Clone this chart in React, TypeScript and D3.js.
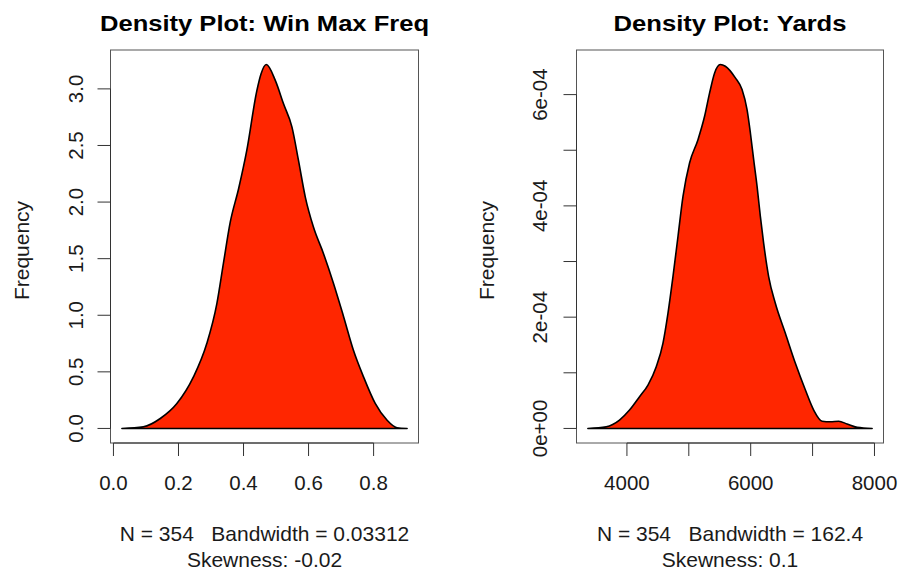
import React from "react";
import * as d3 from "d3";

// Kernel density estimate of win max frequency
const winMaxX = [0.026, 0.092, 0.144, 0.195, 0.246, 0.287, 0.318, 0.338, 0.359, 0.385, 0.41, 0.441, 0.4535, 0.47, 0.498, 0.523, 0.549, 0.569, 0.59, 0.615, 0.646, 0.677, 0.708, 0.738, 0.769, 0.805, 0.841, 0.872, 0.903];
const winMaxDensity = [0, 0.015, 0.088, 0.22, 0.455, 0.75, 1.103, 1.456, 1.82, 2.12, 2.456, 2.985, 3.13, 3.215, 3.073, 2.868, 2.662, 2.368, 2.044, 1.779, 1.544, 1.279, 0.985, 0.691, 0.456, 0.221, 0.074, 0.006, 0];

// Kernel density estimate of yards
const yardsX = [3369, 3665, 3880, 4042, 4204, 4340, 4474, 4582, 4663, 4744, 4825, 4906, 5012, 5148, 5255, 5336, 5417, 5509, 5590, 5752, 5860, 5941, 5995, 6048, 6103, 6156, 6209, 6290, 6398, 6560, 6722, 6884, 7018, 7154, 7288, 7422, 7558, 7720, 7962];
const yardsDensity = [0, 0.000003, 0.000015, 0.000033, 0.000057, 0.000078, 0.000111, 0.000153, 0.000207, 0.000273, 0.000345, 0.000417, 0.000477, 0.000519, 0.000561, 0.000603, 0.000639, 0.000654, 0.000651, 0.00063, 0.000609, 0.000573, 0.000531, 0.000483, 0.000435, 0.000381, 0.000333, 0.000273, 0.000225, 0.000171, 0.000117, 0.000069, 0.000033, 0.000013, 0.000012, 0.000013, 0.000008, 0.000002, 0];

const winMaxXTicks = [0, 0.2, 0.4, 0.6, 0.8];
const winMaxXLabels = ["0.0", "0.2", "0.4", "0.6", "0.8"];
const winMaxYTicks = [0, 0.5, 1, 1.5, 2, 2.5, 3];
const winMaxYLabels = ["0.0", "0.5", "1.0", "1.5", "2.0", "2.5", "3.0"];

const yardsXTicks = [4000, 5000, 6000, 7000, 8000];
const yardsXLabels = ["4000", "", "6000", "", "8000"];
const yardsYTicks = [0, 0.0001, 0.0002, 0.0003, 0.0004, 0.0005, 0.0006];
const yardsYLabels = ["0e+00", "", "2e-04", "", "4e-04", "", "6e-04"];

const titles = ["Density Plot: Win Max Freq", "Density Plot: Yards"];
const subtitles = [
  ["N = 354   Bandwidth = 0.03312", "Skewness: -0.02"],
  ["N = 354   Bandwidth = 162.4", "Skewness: 0.1"],
];

const FONT = "'Liberation Sans', Arial, Helvetica, sans-serif";
const FILL = "#ff2600";
const TEXT = "#1a1a1a";

type PanelProps = {
  xs: number[];
  ys: number[];
  left: number;
  right: number;
  top: number;
  bottom: number;
  xTicks: number[];
  xLabels: string[];
  yTicks: number[];
  yLabels: string[];
  title: string;
  titleLength: number;
  sub: string[];
  yLabelX: number;
  yTickLabelX: number;
};

function Panel(p: PanelProps) {
  const [x0, x1] = d3.extent(p.xs) as [number, number];
  const padX = (x1 - x0) * 0.04;
  const yMax = d3.max(p.ys) as number;
  const padY = yMax * 0.04;
  const x = d3.scaleLinear().domain([x0 - padX, x1 + padX]).range([p.left, p.right]);
  const y = d3.scaleLinear().domain([-padY, yMax + padY]).range([p.bottom, p.top]);

  const pts = p.xs.map((v, i) => [v, p.ys[i]] as [number, number]);
  const line = d3
    .line<[number, number]>()
    .x((d) => x(d[0]))
    .y((d) => y(d[1]))
    .curve(d3.curveMonotoneX);
  const path = (line(pts) || "") + "Z";

  const cx = (p.left + p.right) / 2;
  const cy = (p.top + p.bottom) / 2;
  const tick = 13;
  const xAxisStart = x(p.xTicks[0]);
  const xAxisEnd = x(p.xTicks[p.xTicks.length - 1]);
  const yAxisStart = y(p.yTicks[0]);
  const yAxisEnd = y(p.yTicks[p.yTicks.length - 1]);

  return (
    <g fontFamily={FONT} fill={TEXT}>
      <text
        x={cx}
        y={31}
        fontSize={22}
        fontWeight="bold"
        textAnchor="middle"
        textLength={p.titleLength}
        lengthAdjust="spacingAndGlyphs"
        fill="#000"
      >
        {p.title}
      </text>

      <path d={path} fill={FILL} stroke="#000" strokeWidth={1.6} strokeLinejoin="round" />

      <rect
        x={p.left}
        y={p.top}
        width={p.right - p.left}
        height={p.bottom - p.top}
        fill="none"
        stroke="#555"
        strokeWidth={1}
      />

      {/* x axis */}
      <line x1={xAxisStart} x2={xAxisEnd} y1={p.bottom} y2={p.bottom} stroke="#333" strokeWidth={1} />
      {p.xTicks.map((t, i) => (
        <g key={"xt" + i}>
          <line x1={x(t)} x2={x(t)} y1={p.bottom} y2={p.bottom + tick} stroke="#333" strokeWidth={1} />
          {p.xLabels[i] && (
            <text x={x(t)} y={490} fontSize={20.5} textAnchor="middle">
              {p.xLabels[i]}
            </text>
          )}
        </g>
      ))}

      {/* y axis */}
      <line x1={p.left} x2={p.left} y1={yAxisStart} y2={yAxisEnd} stroke="#333" strokeWidth={1} />
      {p.yTicks.map((t, i) => (
        <g key={"yt" + i}>
          <line x1={p.left - tick} x2={p.left} y1={y(t)} y2={y(t)} stroke="#333" strokeWidth={1} />
          {p.yLabels[i] && (
            <text
              transform={`translate(${p.yTickLabelX},${y(t)}) rotate(-90)`}
              fontSize={20.5}
              textAnchor="middle"
            >
              {p.yLabels[i]}
            </text>
          )}
        </g>
      ))}

      <text
        transform={`translate(${p.yLabelX},${cy + 4}) rotate(-90)`}
        fontSize={21}
        textAnchor="middle"
      >
        Frequency
      </text>

      <text x={cx} y={541} fontSize={21} textAnchor="middle" style={{ whiteSpace: "pre" }}>
        {p.sub[0]}
      </text>
      <text x={cx} y={567} fontSize={21} textAnchor="middle">
        {p.sub[1]}
      </text>
    </g>
  );
}

export default function App() {
  return (
    <svg
      width={901}
      height={571}
      viewBox="0 0 901 571"
      style={{ position: "absolute", left: 0, top: 0, background: "#fff" }}
    >
      <rect width={901} height={571} fill="#fff" />
      <Panel
        xs={winMaxX}
        ys={winMaxDensity}
        left={110.5}
        right={418.5}
        top={50}
        bottom={443}
        xTicks={winMaxXTicks}
        xLabels={winMaxXLabels}
        yTicks={winMaxYTicks}
        yLabels={winMaxYLabels}
        title={titles[0]}
        titleLength={329}
        sub={subtitles[0]}
        yLabelX={29}
        yTickLabelX={83}
      />
      <Panel
        xs={yardsX}
        ys={yardsDensity}
        left={576.5}
        right={883.5}
        top={50}
        bottom={443}
        xTicks={yardsXTicks}
        xLabels={yardsXLabels}
        yTicks={yardsYTicks}
        yLabels={yardsYLabels}
        title={titles[1]}
        titleLength={233}
        sub={subtitles[1]}
        yLabelX={494}
        yTickLabelX={547}
      />
    </svg>
  );
}
